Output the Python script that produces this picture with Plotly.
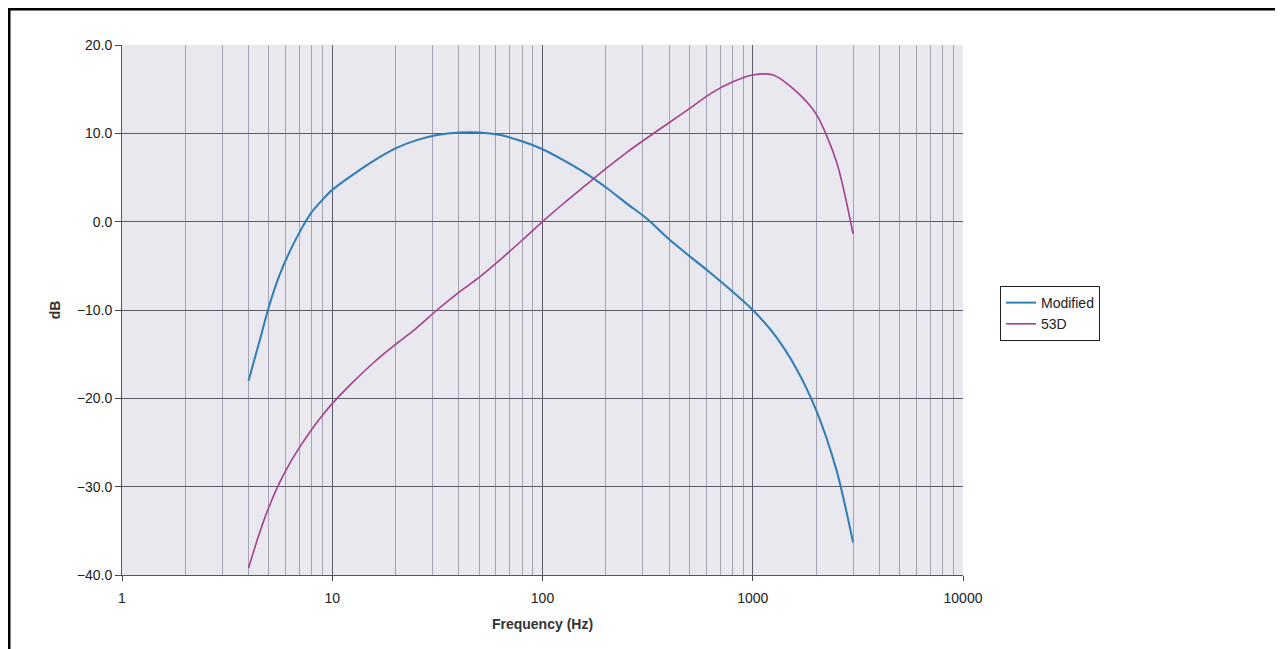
import plotly.graph_objects as go

freq = [4, 4.5, 5, 5.6, 6.3, 7.1, 8, 9, 10, 12.5, 16, 20, 25, 31.5, 40, 50, 63, 80,
        100, 125, 160, 200, 250, 315, 400, 500, 630, 800, 1000, 1250, 1600, 2000, 2500, 3000]
modified = [-18.0, -13.6, -9.6, -6.1, -3.3, -0.9, 1.1, 2.5, 3.6, 5.3, 7.0, 8.3, 9.2, 9.8, 10.1, 10.1,
            9.8, 9.1, 8.2, 7.0, 5.5, 3.9, 2.1, 0.3, -2.0, -3.9, -5.8, -7.9, -10.0, -12.6, -16.5,
            -21.3, -28.1, -36.3]
d53 = [-39.2, -35.3, -32.3, -29.6, -27.3, -25.3, -23.5, -21.9, -20.6, -18.2, -15.8, -13.9, -12.1,
       -10.0, -8.0, -6.3, -4.3, -2.1, 0.0, 2.0, 4.1, 6.0, 7.8, 9.5, 11.2, 12.8, 14.5, 15.8, 16.6,
       16.6, 14.8, 12.2, 6.8, -1.4]

major_x = [1, 10, 100, 1000, 10000]
major_x_labels = ["1", "10", "100", "1000", "10000"]
minor_x = [m * d for d in [1, 10, 100, 1000] for m in range(2, 10)]
y_ticks = [-40, -30, -20, -10, 0, 10, 20]

fig = go.Figure()
fig.add_trace(go.Scatter(x=freq, y=modified, name="Modified", mode="lines",
                         line=dict(color="#2e7db3", width=2, shape="spline", smoothing=0.8)))
fig.add_trace(go.Scatter(x=freq, y=d53, name="53D", mode="lines",
                         line=dict(color="#a3408f", width=1.6, shape="spline", smoothing=0.8)))

OFF = 8  # page body offset
W, H = 1283 - OFF, 649 - OFF
L, R, T, B = 122 - OFF, 963 - OFF, 45 - OFF, 575 - OFF
pw, ph = R - L, B - T


def px(x):
    return (x - OFF - L) / pw


def py(y):
    return (B - (y - OFF)) / ph


fig.update_layout(
    width=W, height=H,
    margin=dict(l=L, r=W - R, t=T, b=H - B),
    paper_bgcolor="white",
    plot_bgcolor="#e8e8ee",
    font=dict(family="Liberation Sans, Arial, sans-serif", size=14, color="#222"),
    showlegend=True,
    legend=dict(x=px(1000), y=py(286), xanchor="left", yanchor="top",
                bordercolor="#222", borderwidth=1, bgcolor="white",
                font=dict(size=14, color="#222"), tracegroupgap=0,
                itemwidth=30),
    xaxis=dict(
        type="log", range=[0, 4],
        tickmode="array", tickvals=major_x, ticktext=major_x_labels,
        tickfont=dict(size=14),
        showgrid=True, gridcolor="#5c5c6a", gridwidth=1,
        minor=dict(tickmode="array", tickvals=minor_x, showgrid=True,
                   gridcolor="#a4a4b4", gridwidth=1, ticks=""),
        ticks="outside", ticklen=5, tickcolor="#444", ticklabelstandoff=5,
        showline=True, linecolor="#555", mirror=False,
        zeroline=False,
        title=dict(text="<b>Frequency (Hz)</b>", font=dict(size=14, color="#333"), standoff=14),
    ),
    yaxis=dict(
        range=[-40, 20], tickmode="array", tickvals=y_ticks,
        tickformat=".1f", tickfont=dict(size=14),
        showgrid=True, gridcolor="#5c5c6a", gridwidth=1,
        ticks="outside", ticklen=6, tickcolor="#444",
        showline=True, linecolor="#555",
        zeroline=False,
        title=dict(text="<b>dB</b>", font=dict(size=14, color="#333"), standoff=12),
    ),
    shapes=[
        dict(type="line", xref="paper", yref="paper", x0=px(8), x1=px(1283), y0=py(9), y1=py(9),
             line=dict(color="black", width=3)),
        dict(type="line", xref="paper", yref="paper", x0=px(9), x1=px(9), y0=py(8), y1=py(649),
             line=dict(color="black", width=3)),
    ],
)

fig.write_html("out.html")
